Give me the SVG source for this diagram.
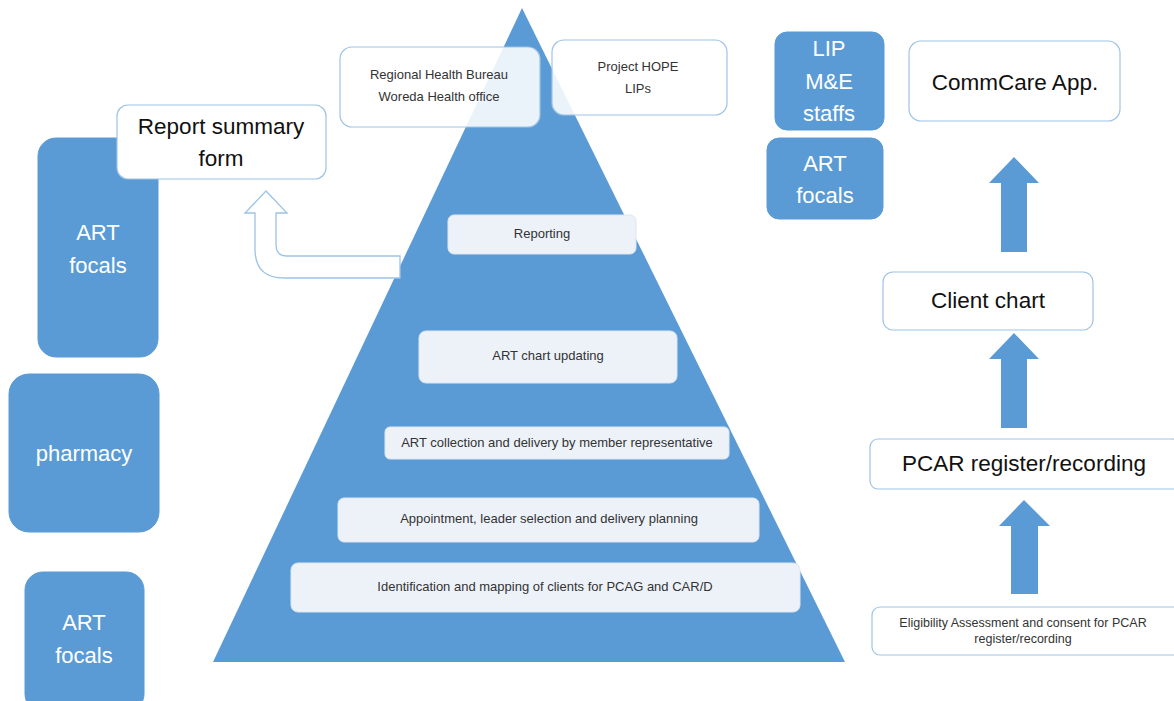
<svg xmlns="http://www.w3.org/2000/svg" width="1174" height="701" viewBox="0 0 1174 701">
<style>
.blue{fill:#5B9BD5;}
.bluebox{fill:#5B9BD5;stroke:#5B9BD5;stroke-width:1;}
.wbox{fill:#ffffff;stroke:#9DC3E6;stroke-width:1.2;}
.tbox{fill:#ffffff;fill-opacity:0.88;stroke:#9DC3E6;stroke-width:1.2;}
.lbox{fill:#EDF2F9;stroke:#DCE6F2;stroke-width:1;}
.wt{font-family:"Liberation Sans",Arial,sans-serif;font-size:22px;fill:#ffffff;text-anchor:middle;}
.bt{font-family:"Liberation Sans",Arial,sans-serif;font-size:22.5px;fill:#111111;text-anchor:middle;}
.st{font-family:"Liberation Sans",Arial,sans-serif;font-size:13px;fill:#333333;text-anchor:middle;}
.xs{font-family:"Liberation Sans",Arial,sans-serif;font-size:12.5px;fill:#333333;text-anchor:middle;}
</style>
<rect width="1174" height="701" fill="#ffffff"/>

<g id="pyramid">
<polygon class="blue" points="522,8 213,662 845,662"/>
</g>

<g id="connectors">
<path d="M 400 256 L 287 256 Q 276 256 276 245 L 276 213 L 287 213 L 266 191 L 245 213 L 255 213 L 255 249 Q 255 278 284 278 L 400 278 Z" fill="#ffffff" stroke="#9DC3E6" stroke-width="1.3"/>
<polygon class="blue" points="1014,157 1039,183 1027,183 1027,252 1001,252 1001,183 989,183"/>
<polygon class="blue" points="1014,333 1039,359 1027,359 1027,428 1001,428 1001,359 989,359"/>
<polygon class="blue" points="1024,500 1050,526 1038,526 1038,594 1011,594 1011,526 999,526"/>
</g>

<g id="reporting">
<rect class="lbox" x="448" y="215" width="188" height="39" rx="6"/>
<text class="st" x="542" y="238">Reporting</text>
</g>
<g id="art-chart">
<rect class="lbox" x="419" y="331" width="258" height="52" rx="7"/>
<text class="st" x="548" y="360">ART chart updating</text>
</g>
<g id="art-collection">
<rect class="lbox" x="385" y="427" width="344" height="32" rx="5"/>
<text class="st" x="557" y="447">ART collection and  delivery by member  representative</text>
</g>
<g id="appointment">
<rect class="lbox" x="338" y="498" width="421" height="44" rx="6"/>
<text class="st" x="549" y="523">Appointment,  leader selection  and delivery planning</text>
</g>
<g id="identification">
<rect class="lbox" x="291" y="563" width="509" height="49" rx="7"/>
<text class="st" x="545" y="591">Identification  and mapping of clients for PCAG and CAR/D</text>
</g>

<g id="regional">
<rect class="tbox" x="340" y="47" width="200" height="80" rx="12"/>
<text class="st" x="439" y="79">Regional Health Bureau</text>
<text class="st" x="439" y="101">Woreda Health office</text>
</g>
<g id="project-hope">
<rect class="tbox" x="552" y="40" width="175" height="75" rx="12"/>
<text class="st" x="638" y="71">Project HOPE</text>
<text class="st" x="638" y="93">LIPs</text>
</g>

<g id="art-focals-1">
<rect class="bluebox" x="38" y="138" width="120" height="219" rx="18"/>
<text class="wt" x="98" y="240">ART</text>
<text class="wt" x="98" y="273">focals</text>
</g>
<g id="report-summary">
<rect class="wbox" x="117" y="105" width="209" height="74" rx="11"/>
<text class="bt" x="221" y="134">Report summary</text>
<text class="bt" x="221" y="166">form</text>
</g>
<g id="pharmacy">
<rect class="bluebox" x="9" y="374" width="150" height="158" rx="20"/>
<text class="wt" x="84" y="461">pharmacy</text>
</g>
<g id="art-focals-2">
<rect class="bluebox" x="25" y="572" width="119" height="140" rx="18"/>
<text class="wt" x="84" y="630">ART</text>
<text class="wt" x="84" y="663">focals</text>
</g>

<g id="lip-me">
<rect class="bluebox" x="775" y="32" width="109" height="98" rx="12"/>
<text class="wt" x="829" y="56">LIP</text>
<text class="wt" x="829" y="89">M&amp;E</text>
<text class="wt" x="829" y="121">staffs</text>
</g>
<g id="art-focals-3">
<rect class="bluebox" x="767" y="138" width="116" height="81" rx="12"/>
<text class="wt" x="825" y="171">ART</text>
<text class="wt" x="825" y="203">focals</text>
</g>
<g id="commcare">
<rect class="wbox" x="909" y="41" width="211" height="80" rx="12"/>
<text class="bt" x="1015" y="90">CommCare App.</text>
</g>
<g id="client-chart">
<rect class="wbox" x="883" y="272" width="210" height="58" rx="10"/>
<text class="bt" x="988" y="308">Client chart</text>
</g>
<g id="pcar">
<rect class="wbox" x="870" y="439" width="310" height="50" rx="8"/>
<text class="bt" x="1024" y="471">PCAR register/recording</text>
</g>
<g id="eligibility">
<rect class="wbox" x="872" y="607" width="310" height="48" rx="8"/>
<text class="xs" x="1023" y="627">Eligibility Assessment and consent for PCAR</text>
<text class="xs" x="1023" y="643">register/recording</text>
</g>
</svg>
